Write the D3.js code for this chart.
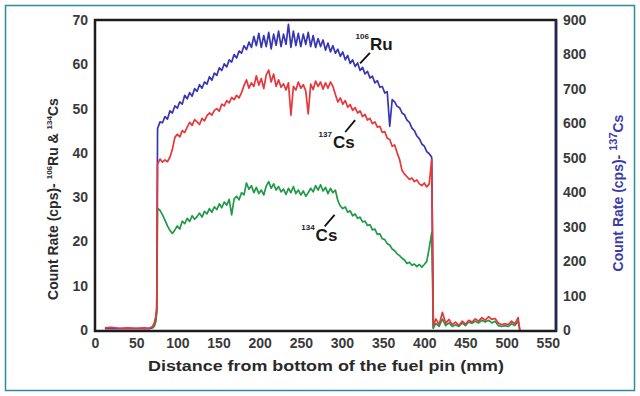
<!DOCTYPE html>
<html>
<head>
<meta charset="utf-8">
<script src="https://cdn.jsdelivr.net/npm/d3@7"></script>
<style>
  body { margin: 0; background: #fff; }
  svg { display: block; font-family: "Liberation Sans", Arial, sans-serif; }
</style>
</head>
<body>
<div id="chart"></div>
<script>
// distance along the pin (mm): lead-in, fuel column, tail
const distance = [
  12, 20, 30, 40, 50, 60, 66, 70, 72, 74, 75,
  76, 79, 82, 85, 88, 91, 94, 97, 100, 103, 106, 109, 112, 115, 118, 121, 124, 127, 130, 133,
  136, 139, 142, 145, 148, 151, 154, 157, 160, 163, 166, 169, 172, 175, 178, 181, 184, 187, 190, 193,
  196, 199, 202, 205, 208, 211, 214, 217, 220, 223, 226, 229, 232, 235, 238, 241, 244, 247, 250, 253,
  256, 259, 262, 265, 268, 271, 274, 277, 280, 283, 286, 289, 292, 295, 298, 301, 304, 307, 310, 313,
  316, 319, 322, 325, 328, 331, 334, 337, 340, 343, 346, 349, 352, 355, 358, 361, 364, 367, 370, 373,
  376, 379, 382, 385, 388, 391, 394, 397, 400, 403, 406, 409,
  411, 414, 418, 422, 426, 430, 434, 438, 442, 446, 450, 454, 458, 462, 466, 470, 474, 478, 482, 486,
  490, 494, 498, 502, 506, 510, 514, 516
];

const ru106 = [
  0.3, 0.3, 0.3, 0.3, 0.3, 0.3, 0.3, 0.5, 1.2, 2.5, 4.5,
  45.5, 47.0, 46.8, 48.2, 47.6, 49.5, 49.0, 50.6, 50.1, 51.5, 51.0, 53.0, 52.2, 53.6, 52.8, 54.5, 53.9, 55.4, 54.6, 56.0,
  55.5, 57.2, 56.4, 58.0, 57.5, 59.2, 58.6, 60.1, 59.4, 61.0, 60.5, 62.2, 61.4, 63.0, 62.5, 64.2, 63.3, 65.0, 63.8, 66.3,
  64.2, 67.0, 63.8, 66.5, 64.0, 67.2, 63.5, 66.8, 64.3, 67.5, 64.0, 66.8, 64.5, 69.0, 63.8, 67.5, 64.2, 67.0, 64.0, 66.8,
  64.5, 67.2, 64.0, 66.5, 63.8, 65.8, 64.0, 65.5, 63.2, 64.8, 62.8, 64.2, 62.5, 63.4, 61.8, 62.8, 61.0, 62.0, 60.2, 61.0,
  59.5, 60.3, 58.6, 59.3, 57.8, 58.4, 56.9, 57.3, 55.8, 56.3, 54.8, 55.0, 53.5, 53.8, 46.0, 52.0, 51.5, 50.5, 50.2, 49.0,
  48.6, 47.4, 46.9, 45.6, 45.0, 43.8, 43.2, 42.0, 41.5, 40.3, 39.8, 39.0,
  0.3, null, null, null, null, null, null, null, null, null, null, null, null, null, null, null, null, null, null, null,
  null, null, null, null, null, null, null, null
];

const cs137 = [
  0.5, 0.6, 0.4, 0.5, 0.4, 0.5, 0.4, 0.8, 1.6, 3.2, 5.0,
  37.5, 38.6, 37.9, 38.4, 38.0, 39.0, 40.8, 43.5, 44.2, 43.6, 45.0, 44.6, 45.8, 46.9, 46.2, 47.5, 47.0, 46.4, 47.8, 47.2,
  48.4, 49.0, 48.5, 49.6, 50.0, 49.4, 51.0, 50.6, 51.8, 51.3, 52.5, 52.0, 53.0, 52.4, 53.6, 55.2, 56.5, 54.6, 55.8, 55.0,
  57.4, 55.3, 56.8, 54.5, 57.6, 58.7, 56.0, 57.8, 55.0, 56.5, 54.8, 55.6, 54.2, 55.8, 48.5, 55.0, 54.2, 56.0, 54.6, 55.4,
  54.0, 48.8, 55.5, 54.3, 56.2, 55.0, 56.0, 54.4, 55.8, 54.6, 56.0, 55.0, 53.2, 51.5, 52.4, 51.0, 51.8, 50.3, 50.9, 49.6,
  50.2, 49.0, 49.5, 48.2, 48.7, 47.4, 47.8, 46.6, 47.0, 45.8, 46.0, 44.6, 44.8, 43.3, 43.0, 41.5, 41.8, 40.0, 38.5, 36.0,
  35.2, 34.6, 34.0, 34.3, 33.5, 33.9, 33.0, 32.6, 33.2, 32.3, 33.0, 38.5,
  1.0, 2.5, 1.2, 4.0, 1.5, 2.4, 1.2, 1.8, 1.0, 2.0, 1.3, 2.2, 1.8, 2.5, 2.0, 2.8, 2.2, 3.0, 2.4, 2.6,
  1.6, 1.2, 1.4, 1.2, 2.0, 1.4, 2.8, 0.0
];

const cs134 = [
  null, null, null, null, null, null, null, 0.5, 0.8, 2.0, 4.0,
  27.5, 27.0, 26.0, 24.8, 23.5, 22.5, 21.8, 22.6, 23.5, 22.8, 24.6, 24.0, 25.2, 24.5, 25.8, 25.0, 25.6, 26.4, 25.5, 26.8,
  26.2, 27.4, 26.6, 27.8, 27.2, 28.5, 27.6, 28.9, 28.2, 29.5, 26.0, 29.6, 30.2, 29.4, 31.0, 30.5, 33.2, 31.8, 32.6, 31.0,
  32.2, 30.8, 31.6, 30.5, 32.5, 33.5, 32.0, 33.0, 31.6, 32.4, 31.2, 31.8, 30.6, 32.0, 31.0, 32.4, 30.8, 31.6, 30.5, 31.4,
  30.2, 31.0, 32.0, 31.2, 32.6, 31.6, 32.8, 31.4, 32.2, 30.8, 32.0, 31.0, 31.6, 29.2, 28.0, 27.4, 27.8, 26.6, 26.9, 25.8,
  26.2, 25.2, 25.5, 24.4, 24.6, 23.6, 23.8, 22.6, 22.8, 21.6, 21.7, 20.6, 20.4, 19.5, 19.2, 18.3, 17.9, 17.2, 16.8, 16.2,
  15.8, 15.0, 15.3, 14.6, 14.9, 14.3, 14.8, 14.2, 14.8, 15.5, 18.5, 22.0,
  0.5, 1.5, 0.8, 2.5, 1.0, 1.6, 0.8, 1.2, 0.8, 1.6, 1.0, 1.8, 1.5, 2.0, 1.6, 2.2, 1.8, 2.2, 1.6, 2.0,
  1.0, 0.8, 1.0, 0.8, 1.4, 1.0, 2.0, 0.0
];

const xTicks = [0, 50, 100, 150, 200, 250, 300, 350, 400, 450, 500, 550];
const yLeftTicks = [0, 10, 20, 30, 40, 50, 60, 70];
const yRightTicks = [0, 100, 200, 300, 400, 500, 600, 700, 800, 900];

// nuclide labels: position in data units, leader line from (lx1,ly1) to (lx2,ly2)
const labels = [
  { mass: "106", name: "Ru", x: 334, y: 63.2, lx1: 334, ly1: 62.6, lx2: 322, ly2: 60.2 },
  { mass: "137", name: "Cs", x: 289, y: 41.1, lx1: 316, ly1: 47.4, lx2: 304, ly2: 44.7 },
  { mass: "134", name: "Cs", x: 268, y: 20.1, lx1: 291, ly1: 26.0, lx2: 279, ly2: 23.4 }
];

const width = 640, height = 396;
const m = { left: 95, right: 556, top: 20, bottom: 330 };

const svg = d3.select("#chart").append("svg")
  .attr("width", width)
  .attr("height", height);

svg.append("rect")
  .attr("x", 5.5).attr("y", 5.5)
  .attr("width", 629).attr("height", 385)
  .attr("fill", "#fff")
  .attr("stroke", "#2b8d9b")
  .attr("stroke-width", 1.5);

const x = d3.scaleLinear().domain([0, 560]).range([m.left, m.right]);
const yL = d3.scaleLinear().domain([0, 70]).range([m.bottom, m.top]);
const yR = d3.scaleLinear().domain([0, 900]).range([m.bottom, m.top]);

const line = d3.line()
  .defined(d => d.v != null)
  .x(d => x(d.d))
  .y(d => yL(d.v));

const series = [
  { values: ru106, color: "#3636b4" },
  { values: cs134, color: "#1f9a48" },
  { values: cs137, color: "#e8363a" }
];

svg.append("g")
  .selectAll("path")
  .data(series)
  .enter().append("path")
    .attr("fill", "none")
    .attr("stroke", d => d.color)
    .attr("stroke-width", 1.7)
    .attr("stroke-linejoin", "round")
    .attr("d", s => line(distance.map((d, i) => ({ d: d, v: s.values[i] }))));

// plot frame
svg.append("rect")
  .attr("x", m.left).attr("y", m.top)
  .attr("width", m.right - m.left).attr("height", m.bottom + 1 - m.top)
  .attr("fill", "none")
  .attr("stroke", "#1c1c1c")
  .attr("stroke-width", 2.5);
svg.append("line")
  .attr("x1", m.right).attr("x2", m.right)
  .attr("y1", m.top).attr("y2", m.bottom + 1)
  .attr("stroke", "#24245e")
  .attr("stroke-width", 2.5);

const tickFont = g => g.selectAll("text")
  .attr("font-size", 14)
  .attr("font-weight", "bold")
  .attr("fill", "#3a3a3a")
  .attr("font-family", "'Liberation Sans', Arial, sans-serif");

svg.append("g")
  .attr("transform", `translate(0,${m.bottom + 1})`)
  .call(d3.axisBottom(x).tickValues(xTicks).tickSize(0).tickPadding(7))
  .call(g => g.select(".domain").remove())
  .call(tickFont);

svg.append("g")
  .attr("transform", `translate(${m.left},0)`)
  .call(d3.axisLeft(yL).tickValues(yLeftTicks).tickSize(0).tickPadding(7))
  .call(g => g.select(".domain").remove())
  .call(tickFont);

svg.append("g")
  .attr("transform", `translate(${m.right},0)`)
  .call(d3.axisRight(yR).tickValues(yRightTicks).tickSize(0).tickPadding(7))
  .call(g => g.select(".domain").remove())
  .call(tickFont);

// axis titles
svg.append("text")
  .attr("x", 326).attr("y", 371)
  .attr("text-anchor", "middle")
  .attr("font-size", 15)
  .attr("font-weight", "bold")
  .attr("fill", "#2a2a2a")
  .attr("textLength", 356)
  .attr("lengthAdjust", "spacingAndGlyphs")
  .text("Distance from bottom of the fuel pin (mm)");

const leftTitle = svg.append("text")
  .attr("transform", "translate(58,199) rotate(-90)")
  .attr("text-anchor", "middle")
  .attr("font-size", 14)
  .attr("font-weight", "bold")
  .attr("fill", "#2a2a2a");
leftTitle.append("tspan").text("Count Rate (cps)- ");
leftTitle.append("tspan").attr("font-size", 8).attr("dy", -6).text("106");
leftTitle.append("tspan").attr("dy", 6).text("Ru & ");
leftTitle.append("tspan").attr("font-size", 8).attr("dy", -6).text("134");
leftTitle.append("tspan").attr("dy", 6).text("Cs");

const rightTitle = svg.append("text")
  .attr("transform", "translate(623,193) rotate(-90)")
  .attr("text-anchor", "middle")
  .attr("font-size", 14)
  .attr("font-weight", "bold")
  .attr("fill", "#3b3ba6");
rightTitle.append("tspan").text("Count Rate (cps)- ");
rightTitle.append("tspan").attr("font-size", 11).attr("dy", -6).text("137");
rightTitle.append("tspan").attr("dy", 6).text("Cs");

// nuclide annotations
const ann = svg.append("g").selectAll("g")
  .data(labels)
  .enter().append("g");

ann.append("line")
  .attr("x1", d => x(d.lx1)).attr("y1", d => yL(d.ly1))
  .attr("x2", d => x(d.lx2)).attr("y2", d => yL(d.ly2))
  .attr("stroke", "#111")
  .attr("stroke-width", 1.8);

ann.append("text")
  .attr("x", d => x(d.x) - 1)
  .attr("y", d => yL(d.y) - 11)
  .attr("text-anchor", "end")
  .attr("font-size", 8)
  .attr("font-weight", "bold")
  .attr("fill", "#222")
  .text(d => d.mass);

ann.append("text")
  .attr("x", d => x(d.x))
  .attr("y", d => yL(d.y))
  .attr("font-size", 17)
  .attr("font-weight", "bold")
  .attr("fill", "#1a1a1a")
  .text(d => d.name);
</script>
</body>
</html>
